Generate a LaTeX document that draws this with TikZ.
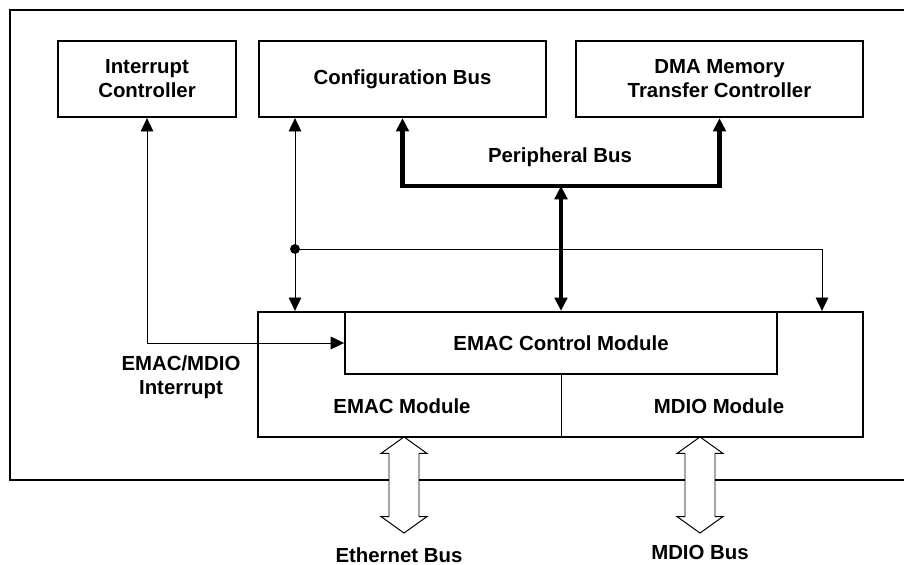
\documentclass[tikz,border=0pt]{standalone}
\usepackage{fontspec}
\setmainfont{Liberation Sans}
\usetikzlibrary{arrows.meta,shapes.arrows,positioning}

\begin{document}
\begin{tikzpicture}[
    x=0.025cm, y=-0.025cm,
    >={Triangle[width=9pt,length=9.5pt]},
    every node/.style={font=\fontsize{14.5}{17}\selectfont\bfseries},
    box/.style={rectangle, draw, line width=1.6pt, align=center},
    sig/.style={line width=0.7pt},
    bus/.style={line width=3.2pt},
    dbl/.style={double arrow, draw, fill=white, line width=0.7pt, inner sep=0.3625cm,
        shape border rotate=90, minimum height=2.4cm, minimum width=1.125cm,
        double arrow head extend=0.2cm, double arrow tip angle=109}
]
\useasboundingbox (0,0) rectangle (904,565);

% frame, open at the right
\draw[line width=1.6pt] (920,10) -- (10,10) -- (10,480) -- (920,480);

\node[box, minimum width=4.45cm,  minimum height=1.9cm] (intc) at (147,79)   {Interrupt\\Controller};
\node[box, minimum width=7.175cm, minimum height=1.9cm] (cfg)  at (402.5,79) {Configuration Bus};
\node[box, minimum width=7.175cm, minimum height=1.9cm] (dma)  at (719.5,79) {DMA Memory\\Transfer Controller};

\node[box, minimum width=15.125cm, minimum height=3.125cm] (emac) at (560.5,374.5) {};
\node[box, line width=1.2pt, minimum width=10.8cm, minimum height=1.55cm] (ctrl) at (561,343) {EMAC Control Module};
\node (emacm) at (402,406) {EMAC Module};
\node (mdiom) at (719,406) {MDIO Module};
\draw[sig] (ctrl.south) -- (ctrl.south |- emac.south);

\node (pbus) at (560,157) {Peripheral Bus};
\node[align=center] (irq) at (181,377) {EMAC/MDIO\\Interrupt};

\coordinate (j)  at (295,249);
\coordinate (jr) at (822,249);
\coordinate (pb) at (561,186);

\draw[sig, <->] (intc.south) |- (ctrl.west);
\draw[sig, <->] (cfg.south -| j) -- (j |- emac.north);
\draw[sig, ->]  (j) -- (jr) -- (jr |- emac.north);
\fill (j) circle (3.5pt);

\draw[bus, <->] (cfg.south) |- (pb) -| (dma.south);
\draw[bus, <->] (pb) -- (pb |- emac.north);

\node[dbl] (eth)   at (404,485) {};
\node[dbl] (mdiob) at (700,485) {};
\node (ethl)  at (399,555) {Ethernet Bus};
\node (mdiol) at (700,552) {MDIO Bus};
\end{tikzpicture}
\end{document}
